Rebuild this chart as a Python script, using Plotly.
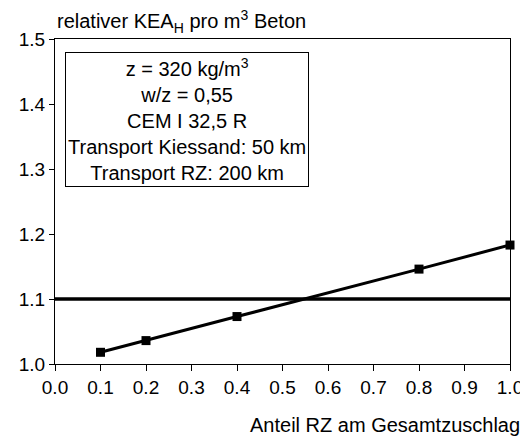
import plotly.graph_objects as go

x_vals = [0.1, 0.2, 0.4, 0.8, 1.0]
y_vals = [1.018, 1.036, 1.073, 1.146, 1.183]
ref_x = [0.0, 1.0]
ref_y = [1.1, 1.1]
x_ticks = [0.0, 0.1, 0.2, 0.3, 0.4, 0.5, 0.6, 0.7, 0.8, 0.9, 1.0]
y_ticks = [1.0, 1.1, 1.2, 1.3, 1.4, 1.5]

FONT = "Liberation Sans"

fig = go.Figure()
fig.add_trace(go.Scatter(x=ref_x, y=ref_y, mode="lines",
                         line=dict(color="black", width=3.5), showlegend=False,
                         cliponaxis=False))
fig.add_trace(go.Scatter(x=x_vals, y=y_vals, mode="lines+markers",
                         line=dict(color="black", width=3),
                         marker=dict(symbol="square", size=9, color="black"),
                         showlegend=False, cliponaxis=False))

fig.update_layout(
    width=520, height=430,
    margin=dict(l=47, r=18, t=31, b=74),
    paper_bgcolor="white", plot_bgcolor="white",
    font=dict(family=FONT, size=19, color="black"),
    xaxis=dict(range=[0, 1.0], tickvals=x_ticks, tickformat=".1f",
               showgrid=False, zeroline=False, showline=True, mirror=True,
               linecolor="black", linewidth=1, ticks="outside", ticklen=6,
               tickcolor="black", tickfont=dict(family=FONT, size=19),
               automargin=False),
    yaxis=dict(range=[1.0, 1.5], tickvals=y_ticks, tickformat=".1f",
               showgrid=False, zeroline=False, showline=True, mirror=True,
               linecolor="black", linewidth=1, ticks="outside", ticklen=5,
               tickcolor="black", tickfont=dict(family=FONT, size=19),
               automargin=False),
    annotations=[
        dict(text="relativer KEA<sub>H</sub> pro m<sup>3</sup> Beton",
             xref="paper", yref="paper", x=0.0, y=1.0, yshift=18,
             xanchor="left", yanchor="middle", showarrow=False,
             font=dict(family=FONT, size=20)),
        dict(text="Anteil RZ am Gesamtzuschlag",
             xref="paper", yref="paper", x=0.424, y=0, yshift=-48,
             xanchor="left", yanchor="top", showarrow=False,
             font=dict(family=FONT, size=20)),
        dict(text="z = 320 kg/m<sup>3</sup><br>w/z = 0,55<br>CEM I 32,5 R<br>"
                  "Transport Kiessand: 50 km<br>Transport RZ: 200 km",
             xref="paper", yref="paper", x=0.022, y=0.96,
             xanchor="left", yanchor="top", showarrow=False, align="center",
             bordercolor="black", borderwidth=1, borderpad=2,
             bgcolor="white", font=dict(family=FONT, size=20)),
    ],
)

fig.write_html("out.html")
